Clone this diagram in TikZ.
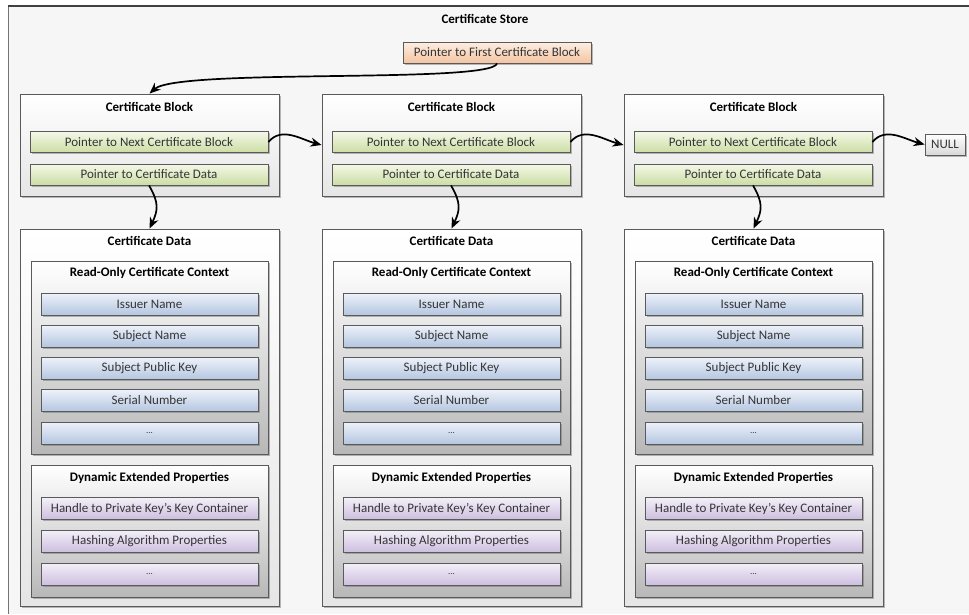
\documentclass[tikz,border=0pt]{standalone}
\usepackage{fontspec}
\setmainfont{Carlito}
\usetikzlibrary{arrows.meta,shadows}
\definecolor{bordc}{HTML}{5A5A5A}
\definecolor{txtc}{HTML}{353535}
\definecolor{storebg}{HTML}{F6F6F6}
\definecolor{grtop}{HTML}{F4F8E8}
\definecolor{grbot}{HTML}{CCDDA4}
\definecolor{bltop}{HTML}{EEF2FA}
\definecolor{blbot}{HTML}{B4C6E0}
\definecolor{pptop}{HTML}{F4F0F8}
\definecolor{ppbot}{HTML}{CDBEDF}
\definecolor{ortop}{HTML}{FDEEE2}
\definecolor{orbot}{HTML}{F4C4A2}
\tikzset{
  shd/.style={drop shadow={shadow xshift=1.6pt,shadow yshift=-1.6pt,opacity=0.45,fill=black!60}},
  cont/.style={draw=bordc,line width=0.9pt,shd,rectangle,inner sep=0pt},
  lightbox/.style={cont,top color=white,bottom color=black!10},
  graybox/.style={cont,top color=white,bottom color=black!28},
  item/.style={draw=bordc,line width=0.8pt,shd,rectangle,inner sep=0pt,
    font=\fontsize{13}{15}\selectfont,text=txtc},
  gitem/.style={item,top color=grtop,bottom color=grbot,minimum width=238pt,minimum height=21.5pt},
  bitem/.style={item,top color=bltop,bottom color=blbot,minimum width=217pt,minimum height=22pt},
  pitem/.style={item,top color=pptop,bottom color=ppbot,minimum width=217pt,minimum height=22pt},
  ttl/.style={font=\bfseries\fontsize{13}{15}\selectfont,text=black,inner sep=0pt},
  arr/.style={line width=1.7pt,black,-{Stealth[length=11pt,width=9pt]}},
}
\begin{document}
\begin{tikzpicture}[x=1pt,y=-1pt]
\useasboundingbox (0,0) rectangle (969,614);
\fill[white] (0,0) rectangle (969,614);
\fill[storebg] (8,6) rectangle (969,614);
\draw[black!55,line width=0.8pt] (8,614) -- (8,6);
\draw[black!75,line width=1.8pt] (8,6) -- (969,6);
\node[ttl] (storetitle) at (485,19) {Certificate Store};
\node[item,top color=ortop,bottom color=orbot,minimum width=188pt,minimum height=21pt] (pfirst) at (497,52.5) {Pointer to First Certificate Block};
\foreach \i/\x in {1/0,2/302,3/604}{
  \node[lightbox,minimum width=259pt,minimum height=102pt] (blk\i) at (149.5+\x,145) {};
  \node[ttl] (blkt\i) at (149.5+\x,107) {Certificate Block};
  \node[gitem] (next\i) at (149+\x,142) {Pointer to Next Certificate Block};
  \node[gitem,minimum height=21pt] (data\i) at (149+\x,174.5) {Pointer to Certificate Data};
  \node[lightbox,minimum width=259pt,minimum height=377pt] (cd\i) at (149.5+\x,417.5) {};
  \node[ttl] (cdt\i) at (149.5+\x,241) {Certificate Data};
  \node[graybox,minimum width=237pt,minimum height=193pt] (ro\i) at (149.5+\x,357.5) {};
  \node[ttl] (rot\i) at (149.5+\x,273) {Read-Only Certificate Context};
  \node[bitem] (iss\i) at (149.5+\x,304) {Issuer Name};
  \node[bitem] (sub\i) at (149.5+\x,336) {Subject Name};
  \node[bitem] (pk\i) at (149.5+\x,368.5) {Subject Public Key};
  \node[bitem] (sn\i) at (149.5+\x,400.5) {Serial Number};
  \node[bitem] (rod\i) at (149.5+\x,433) {\fontsize{9}{10}\selectfont...};
  \node[graybox,minimum width=237pt,minimum height=132pt] (dy\i) at (149.5+\x,531) {};
  \node[ttl] (dyt\i) at (149.5+\x,478) {Dynamic Extended Properties};
  \node[pitem] (hk\i) at (149.5+\x,508.5) {Handle to Private Key’s Key Container};
  \node[pitem] (ha\i) at (149.5+\x,541) {Hashing Algorithm Properties};
  \node[pitem] (dyd\i) at (149.5+\x,574) {\fontsize{9}{10}\selectfont...};
  \draw[arr] (data\i.south) to[out=-60,in=65,looseness=1.2] (cd\i.north);
}
\node[item,top color=white,bottom color=black!15,minimum width=40pt,minimum height=21pt] (null) at (945,144.5) {NULL};
\draw[arr] (pfirst.south) .. controls (492,84) and (178,68) .. (blk1.north);
\draw[arr] (next1.east) to[out=50,in=165] (blk2.west);
\draw[arr] (next2.east) to[out=50,in=165] (blk3.west);
\draw[arr] (next3.east) to[out=50,in=165] (null.west);
\end{tikzpicture}
\end{document}
